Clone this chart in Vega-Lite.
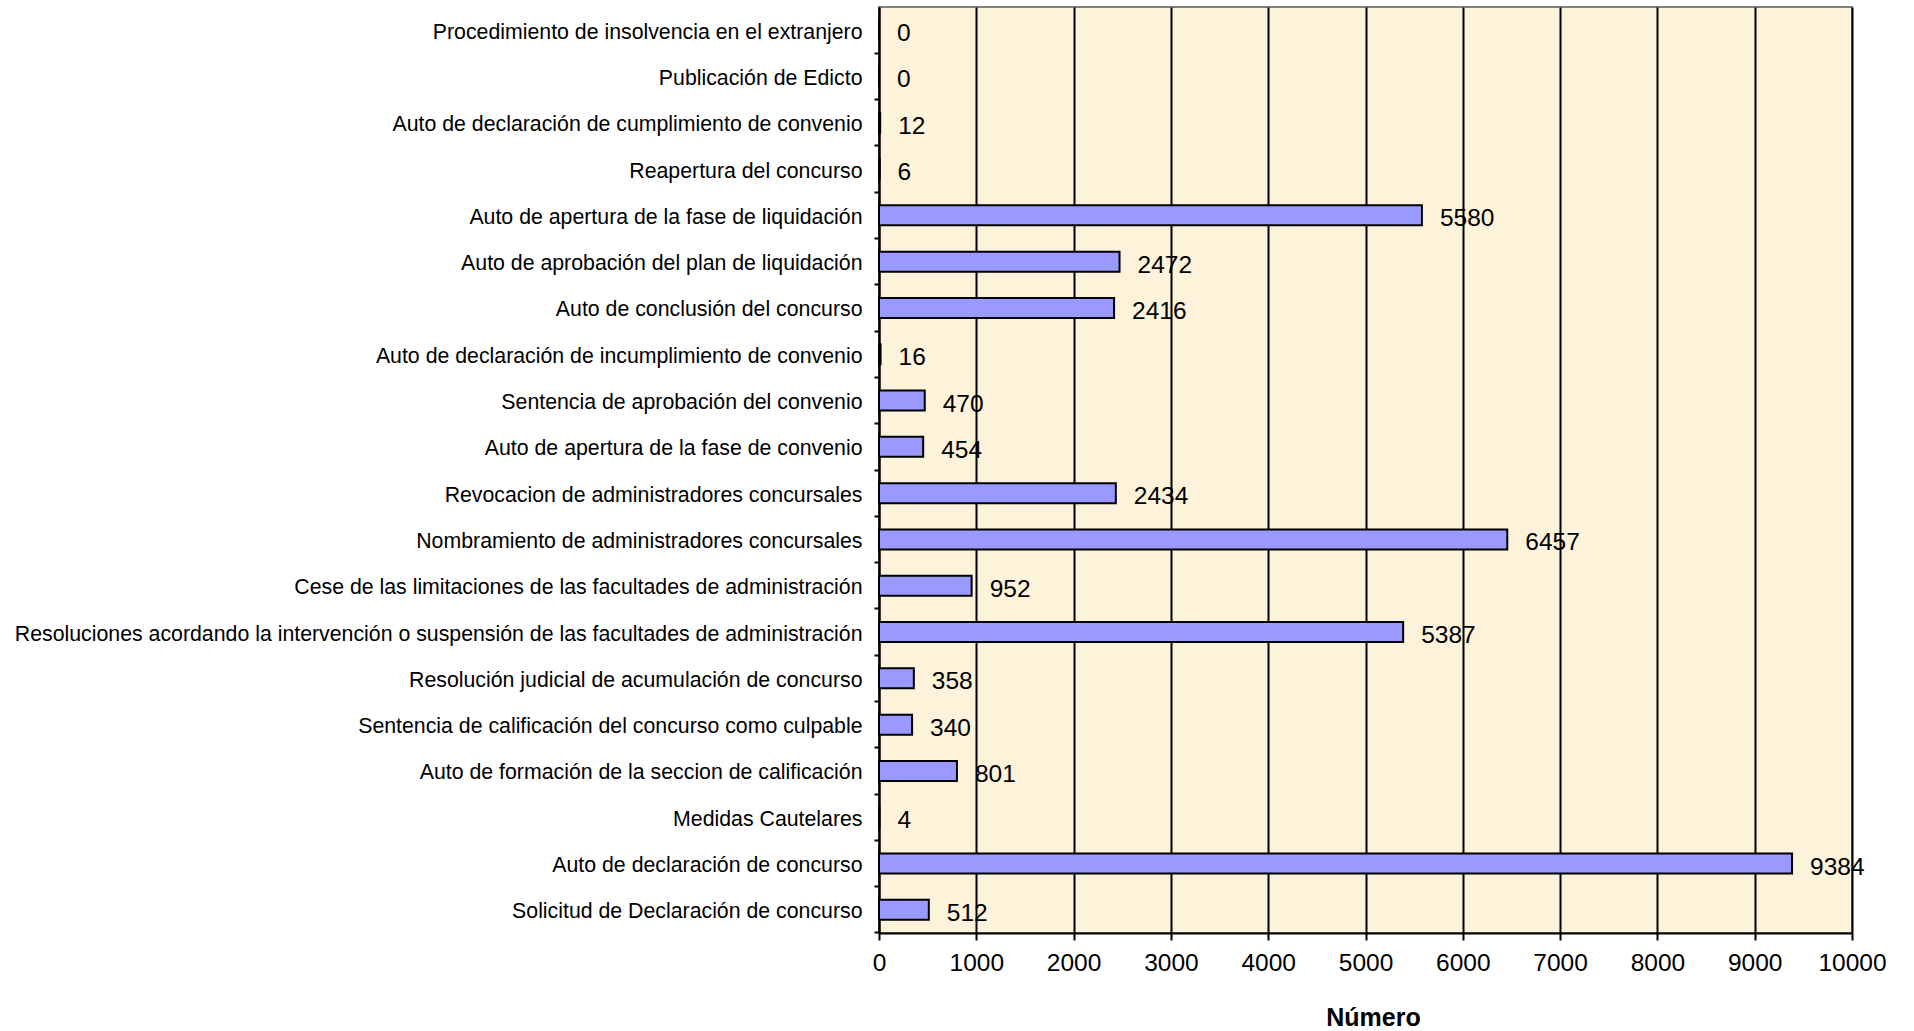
{
  "$schema": "https://vega.github.io/schema/vega-lite/v6.json",
  "autosize": "none",
  "width": 973,
  "height": 926,
  "padding": {"left": 879, "top": 7, "right": 62, "bottom": 98},
  "background": "white",
  "config": {
    "font": "Liberation Sans",
    "view": {"fill": "#fdf2da", "stroke": "#808080", "strokeWidth": 2}
  },
  "data": {
    "values": [
      {"categoria": "Procedimiento de insolvencia en el extranjero", "numero": 0},
      {"categoria": "Publicación de Edicto", "numero": 0},
      {"categoria": "Auto de declaración de cumplimiento de convenio", "numero": 12},
      {"categoria": "Reapertura del concurso", "numero": 6},
      {"categoria": "Auto de apertura de la fase de liquidación", "numero": 5580},
      {"categoria": "Auto de aprobación del plan de liquidación", "numero": 2472},
      {"categoria": "Auto de conclusión del concurso", "numero": 2416},
      {"categoria": "Auto de declaración de incumplimiento de convenio", "numero": 16},
      {"categoria": "Sentencia de aprobación del convenio", "numero": 470},
      {"categoria": "Auto de apertura de la fase de convenio", "numero": 454},
      {"categoria": "Revocacion de administradores concursales", "numero": 2434},
      {"categoria": "Nombramiento de administradores concursales", "numero": 6457},
      {"categoria": "Cese de las limitaciones de las facultades de administración", "numero": 952},
      {"categoria": "Resoluciones acordando la intervención o suspensión de las facultades de administración", "numero": 5387},
      {"categoria": "Resolución judicial de acumulación de concurso", "numero": 358},
      {"categoria": "Sentencia de calificación del concurso como culpable", "numero": 340},
      {"categoria": "Auto de formación de la seccion de calificación", "numero": 801},
      {"categoria": "Medidas Cautelares", "numero": 4},
      {"categoria": "Auto de declaración de concurso", "numero": 9384},
      {"categoria": "Solicitud de Declaración de concurso", "numero": 512}
    ]
  },
  "encoding": {
    "y": {
      "field": "categoria",
      "type": "nominal",
      "sort": null,
      "scale": {"paddingInner": 0, "paddingOuter": 0},
      "axis": {
        "title": null,
        "bandPosition": 1,
        "labelOffset": 2.5,
        "labelFontSize": 21.3,
        "labelColor": "black",
        "labelPadding": 12,
        "labelLimit": 1000,
        "tickSize": 5,
        "tickColor": "black",
        "tickWidth": 2,
        "domainColor": "black",
        "domainWidth": 2,
        "grid": false
      }
    },
    "x": {
      "field": "numero",
      "type": "quantitative",
      "scale": {"domain": [0, 10000], "nice": false},
      "axis": {
        "title": "Número",
        "titleFontSize": 25,
        "titleFontWeight": "bold",
        "titleColor": "black",
        "titlePadding": 31,
        "titleX": 494,
        "values": [0, 1000, 2000, 3000, 4000, 5000, 6000, 7000, 8000, 9000, 10000],
        "format": "d",
        "labelFlush": false,
        "labelFontSize": 24.5,
        "labelColor": "black",
        "labelPadding": 11,
        "tickSize": 7,
        "tickColor": "black",
        "tickWidth": 2,
        "domainColor": "black",
        "domainWidth": 2,
        "grid": true,
        "gridColor": "black",
        "gridWidth": 2,
        "gridOpacity": 1
      }
    }
  },
  "layer": [
    {
      "mark": {"type": "bar", "height": 20, "fill": "#9999ff", "stroke": "black", "strokeWidth": 2}
    },
    {
      "mark": {"type": "text", "align": "left", "baseline": "middle", "dx": 18, "dy": 4, "fontSize": 24.5, "color": "black"},
      "encoding": {"text": {"field": "numero", "type": "quantitative", "format": "d"}}
    }
  ]
}
